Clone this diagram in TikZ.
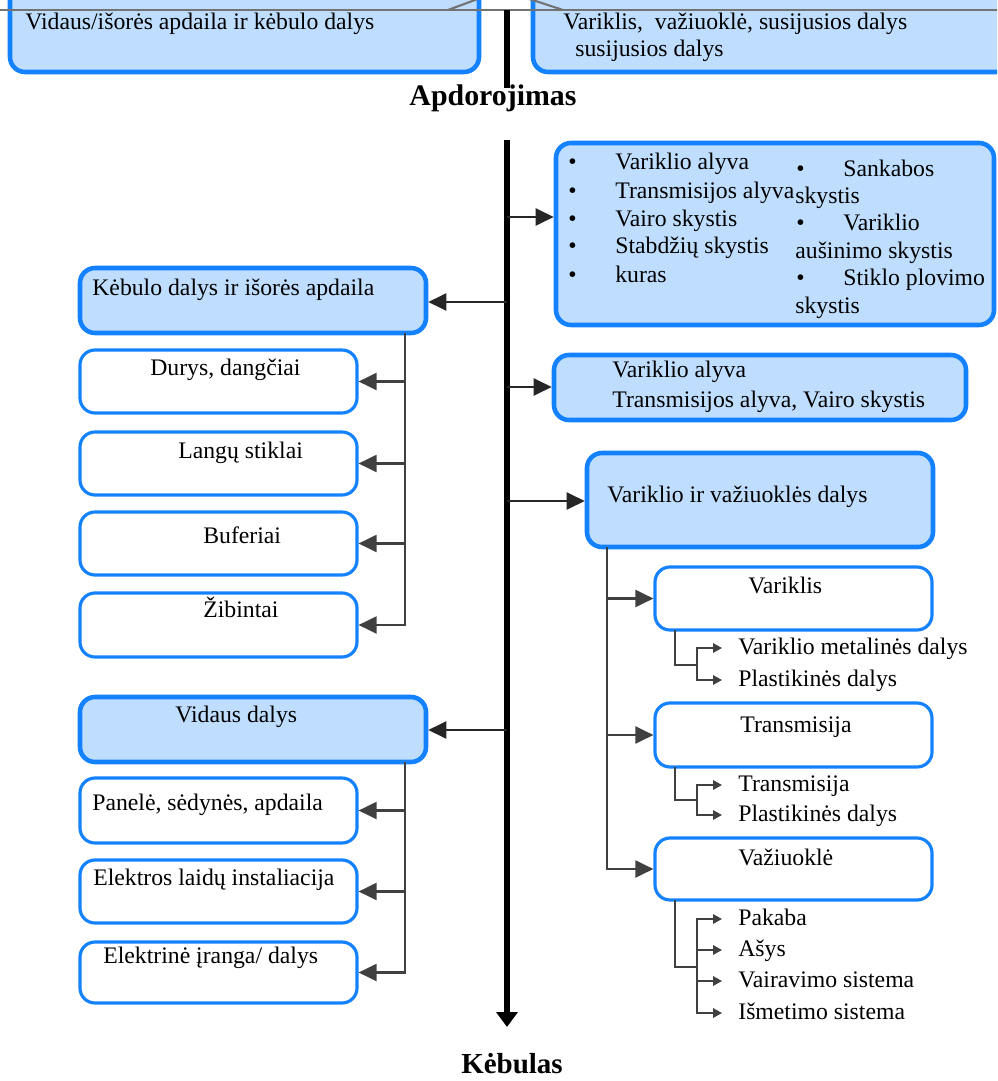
\documentclass[tikz,border=0pt]{standalone}
\usepackage{fontspec}
\setmainfont{Liberation Serif}
\usetikzlibrary{arrows.meta}
\definecolor{boxblue}{RGB}{20,130,255}
\definecolor{boxfill}{RGB}{191,222,255}
\newcommand{\fs}{\fontsize{13.5}{16}\selectfont}
\newcommand{\bul}{\makebox[0.94cm][l]{•}}
% box from (x1,y1) to (x2,y2) in pixel units
\newcommand{\boxnode}[6]{\node[#1, minimum width={(#5-(#3))*0.02cm}, minimum height={(#6-(#4))*0.02cm}] (#2) at ({(#3+#5)/2},{(#4+#6)/2}) {};}

\tikzset{
  grpbox/.style = {draw=boxblue, fill=boxfill, line width=2.6pt, rounded corners=0.3cm, inner sep=0pt},
  itembox/.style = {draw=boxblue, fill=white, line width=1.8pt, rounded corners=0.3cm, inner sep=0pt},
  txt/.style = {anchor=base west, inner sep=0pt, font=\fs},
  item/.style = {anchor=west, inner xsep=0.32cm, inner ysep=0pt, text height=0.75em, text depth=0pt, font=\fs},
  mainline/.style = {line width=3pt},
  branch/.style = {line width=1.2pt, draw=black!85, -{Triangle[length=0.36cm,width=0.34cm]}},
  spine/.style = {line width=1.1pt, draw=black!75},
  subline/.style = {line width=1pt, draw=black!75},
  subarrow/.style = {subline, -{Triangle[length=0.18cm,width=0.19cm]}},
}

\begin{document}
\begin{tikzpicture}[x=0.02cm, y=-0.02cm]
            \useasboundingbox (0,0) rectangle (997,1081);
            \clip (0,0) rectangle (997,1081);

            % top part
            \boxnode{grpbox}{topleft}{10}{-40}{479}{72}
            \boxnode{grpbox}{topright}{533}{-40}{1040}{72}
            \node[txt] (tl1) at (25,30) {Vidaus/išorės apdaila ir kėbulo dalys};
            \node[txt] (tr1) at (563,30) {Variklis,\ \ važiuoklė, susijusios dalys};
            \node[txt] (tr2) at (575,57) {susijusios dalys};
            \draw[black!55, line width=1.2pt] (0,10) -- (997,10);
            \draw[black!55, line width=1.2pt] (448,10) -- (502,-10) -- (563,10);
            \coordinate (ttop) at (507,10);
            \coordinate (tbot) at (507,88);
            \draw[mainline] (ttop) -- (tbot);
            \node[anchor=base, inner sep=0pt, font=\fontsize{17}{20}\selectfont\bfseries] (apdor) at (493,106) {Apdorojimas};

            % main line
            \coordinate (mtop) at (507,140);
            \coordinate (mbot) at (507,1027);
            \draw[mainline, -{Triangle[length=0.3cm,width=0.42cm]}] (mtop) -- (mbot);
            \node[anchor=base, inner sep=0pt, font=\fontsize{16.5}{20}\selectfont\bfseries] (kebul) at (512,1073) {Kėbulas};

            % right side boxes
            \boxnode{grpbox}{fluids}{556}{143}{994}{325}
            \boxnode{grpbox}{oils}{554}{355}{966}{420}
            \boxnode{grpbox}{engdrv}{587}{453}{933}{547}
            \boxnode{itembox}{variklis}{655}{567}{932}{630}
            \boxnode{itembox}{transm}{655}{703}{932}{767}
            \boxnode{itembox}{vaziuok}{655}{838}{932}{900}

            \node[txt] (fl1) at (568,170) {\bul Variklio alyva};
            \node[txt] (fl2) at (568,198) {\bul Transmisijos alyva};
            \node[txt] (fl3) at (568,226) {\bul Vairo skystis};
            \node[txt] (fl4) at (568,254) {\bul Stabdžių skystis};
            \node[txt] (fl5) at (568,282) {\bul kuras};
            \node[txt] (fr1) at (796,177) {\bul Sankabos};
            \node[txt] (fr2) at (795,204) {skystis};
            \node[txt] (fr3) at (796,231) {\bul Variklio};
            \node[txt] (fr4) at (795,258) {aušinimo skystis};
            \node[txt] (fr5) at (796,285) {\bul Stiklo plovimo};
            \node[txt] (fr6) at (795,313) {skystis};
            \node[txt] (ol1) at (612,377) {Variklio alyva};
            \node[txt] (ol2) at (612,407) {Transmisijos alyva, Vairo skystis};
            \node[txt] (ed1) at (607,502) {Variklio ir važiuoklės dalys};
            \node[txt] (vr1) at (748,593) {Variklis};
            \node[txt] (tm1) at (740,732) {Transmisija};
            \node[txt] (vz1) at (738,865) {Važiuoklė};

            \coordinate (bfl) at (507,217);
            \coordinate (bol) at (507,387);
            \coordinate (bed) at (507,501);
            \draw[branch] (bfl) -- (bfl -| fluids.west);
            \draw[branch] (bol) -- (bol -| oils.west);
            \draw[branch] (bed) -- (bed -| engdrv.west);

            \coordinate (rs) at (607,547);
            \draw[branch, draw=black!75] (rs) |- (vaziuok.west);
            \draw[branch, draw=black!75] (rs |- variklis.west) -- (variklis.west);
            \draw[branch, draw=black!75] (rs |- transm.west) -- (transm.west);

            % sub items
            \node[item] (vmet) at (722,648) {Variklio metalinės dalys};
            \node[item] (vpla) at (722,680) {Plastikinės dalys};
            \coordinate (v1) at (675,630);
            \coordinate (v2) at (697,665);
            \draw[subline] (v1) |- (v2);
            \draw[subarrow] (v2) |- (vmet.west);
            \draw[subarrow] (v2) |- (vpla.west);

            \node[item] (ttr) at (722,785) {Transmisija};
            \node[item] (tpla) at (722,815) {Plastikinės dalys};
            \coordinate (t1) at (675,767);
            \coordinate (t2) at (697,800);
            \draw[subline] (t1) |- (t2);
            \draw[subarrow] (t2) |- (ttr.west);
            \draw[subarrow] (t2) |- (tpla.west);

            \node[item] (zpak) at (722,919) {Pakaba};
            \node[item] (zasy) at (722,950) {Ašys};
            \node[item] (zvai) at (722,981) {Vairavimo sistema};
            \node[item] (zism) at (722,1013) {Išmetimo sistema};
            \coordinate (z1) at (675,900);
            \coordinate (z2) at (697,967);
            \draw[subline] (z1) |- (z2);
            \draw[subarrow] (z2) |- (zpak.west);
            \draw[subarrow] (z2) |- (zasy.west);
            \draw[subarrow] (z2) |- (zvai.west);
            \draw[subarrow] (z2) |- (zism.west);

            % left side boxes
            \boxnode{grpbox}{kebulas}{80}{268}{426}{333}
            \boxnode{itembox}{durys}{80}{350}{357}{413}
            \boxnode{itembox}{langai}{80}{432}{357}{495}
            \boxnode{itembox}{buferiai}{80}{512}{357}{575}
            \boxnode{itembox}{zibintai}{80}{593}{357}{657}
            \boxnode{grpbox}{vidaus}{80}{697}{426}{762}
            \boxnode{itembox}{panele}{80}{778}{357}{843}
            \boxnode{itembox}{laidai}{80}{860}{357}{923}
            \boxnode{itembox}{iranga}{80}{942}{357}{1003}

            \node[txt] (kb1) at (92,295) {Kėbulo dalys ir išorės apdaila};
            \node[txt] (du1) at (150,375) {Durys, dangčiai};
            \node[txt] (la1) at (178,458) {Langų stiklai};
            \node[txt] (bu1) at (203,543) {Buferiai};
            \node[txt] (zi1) at (203,617) {Žibintai};
            \node[txt] (vi1) at (175,722) {Vidaus dalys};
            \node[txt] (pa1) at (92,810) {Panelė, sėdynės, apdaila};
            \node[txt] (ld1) at (93,885) {Elektros laidų instaliacija};
            \node[txt] (ir1) at (103,963) {Elektrinė įranga/ dalys};

            \coordinate (bkb) at (507,302);
            \coordinate (bvi) at (507,730);
            \draw[branch] (bkb) -- (bkb -| kebulas.east);
            \draw[branch] (bvi) -- (bvi -| vidaus.east);

            \coordinate (ks) at (405,333);
            \draw[branch, draw=black!75] (ks) |- (zibintai.east);
            \draw[branch, draw=black!75] (ks |- durys.east) -- (durys.east);
            \draw[branch, draw=black!75] (ks |- langai.east) -- (langai.east);
            \draw[branch, draw=black!75] (ks |- buferiai.east) -- (buferiai.east);

            \coordinate (vs) at (405,762);
            \draw[branch, draw=black!75] (vs) |- (iranga.east);
            \draw[branch, draw=black!75] (vs |- panele.east) -- (panele.east);
            \draw[branch, draw=black!75] (vs |- laidai.east) -- (laidai.east);

        \end{tikzpicture}
\end{document}
